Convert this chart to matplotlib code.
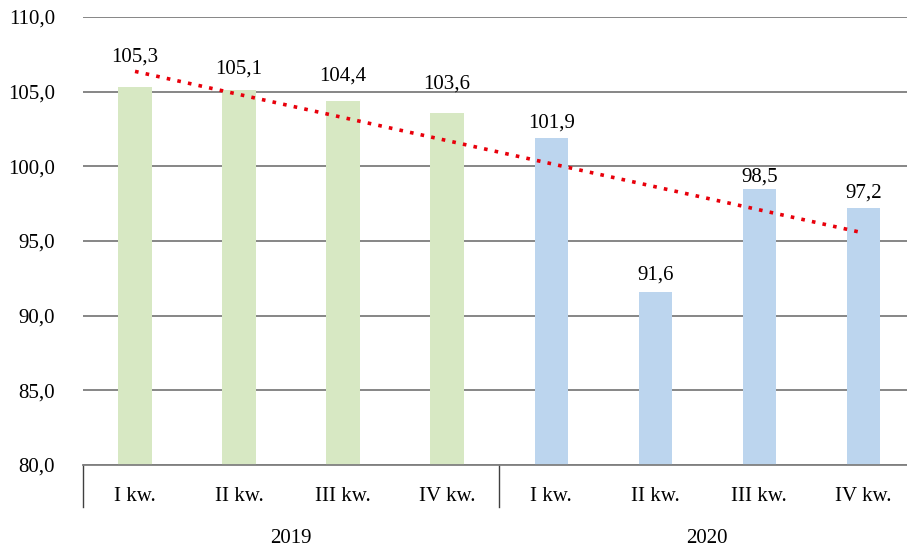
import matplotlib.pyplot as plt
import matplotlib.transforms as mtransforms
import numpy as np

plt.rcParams['font.family'] = ['Liberation Serif', 'DejaVu Serif']

# dane
kwartaly = ["I kw.", "II kw.", "III kw.", "IV kw.", "I kw.", "II kw.", "III kw.", "IV kw."]
lata = ["2019", "2020"]
wartosci_2019 = [105.3, 105.1, 104.4, 103.6]
wartosci_2020 = [101.9, 91.6, 98.5, 97.2]

# przesuniecia etykiet (pkt) - jak w oryginale, omijaja linie trendu
przesuniecia = [15, 8.5, 10.5, 14, 4.2, 5, 1.5, 4.2]

wartosci = wartosci_2019 + wartosci_2020
kolory = ["#D7E8C3"] * len(wartosci_2019) + ["#BCD5EE"] * len(wartosci_2020)
x = np.arange(len(wartosci))

fig = plt.figure(figsize=(9.07, 5.46), dpi=100)
ax = fig.add_axes([83 / 907, 1 - 465 / 546, (907 - 83) / 907, (465 - 17) / 546])

ax.bar(x, wartosci, width=0.32, color=kolory, zorder=2)

# linia trendu (liniowa)
a, b = np.polyfit(x, wartosci, 1)
ax.plot(x, a * x + b, color="#E8000B", linestyle=(0, (1, 2)), linewidth=2.6, zorder=3)

for xi, v, dy in zip(x, wartosci, przesuniecia):
    ax.annotate(f"{v:.1f}".replace(".", ","), (xi, v), xytext=(0, dy),
                textcoords="offset points", ha="center", va="bottom", fontsize=15)

ax.set_ylim(80, 110)
ax.set_yticks(np.arange(80, 111, 5))
ax.set_yticklabels([f"{t:.1f}".replace(".", ",") for t in np.arange(80, 111, 5)], fontsize=15)
ax.yaxis.grid(True, color="#666666", linewidth=1.1, zorder=1)
ax.set_axisbelow(True)
ax.set_xlim(-0.5, 7.42)
ax.set_xticks(x)
ax.set_xticklabels(kwartaly, fontsize=15)
ax.tick_params(axis="both", length=0)
ax.tick_params(axis="y", pad=20)
ax.tick_params(axis="x", pad=16)

for s in ["top", "right", "left"]:
    ax.spines[s].set_visible(False)
ax.spines["bottom"].set_color("#808080")
ax.spines["bottom"].set_linewidth(1.3)

# separatory grup i podpisy lat
tr = mtransforms.blended_transform_factory(ax.transData, ax.transAxes)
for sx in [-0.5, 3.5]:
    ax.plot([sx, sx], [0, -0.094], transform=tr, color="#404040", linewidth=1, clip_on=False)
for i, rok in enumerate(lata):
    ax.text(1.5 + 4 * i, -0.163, rok, transform=tr, ha="center", va="center", fontsize=15)

fig.savefig("out.png", dpi=100)
